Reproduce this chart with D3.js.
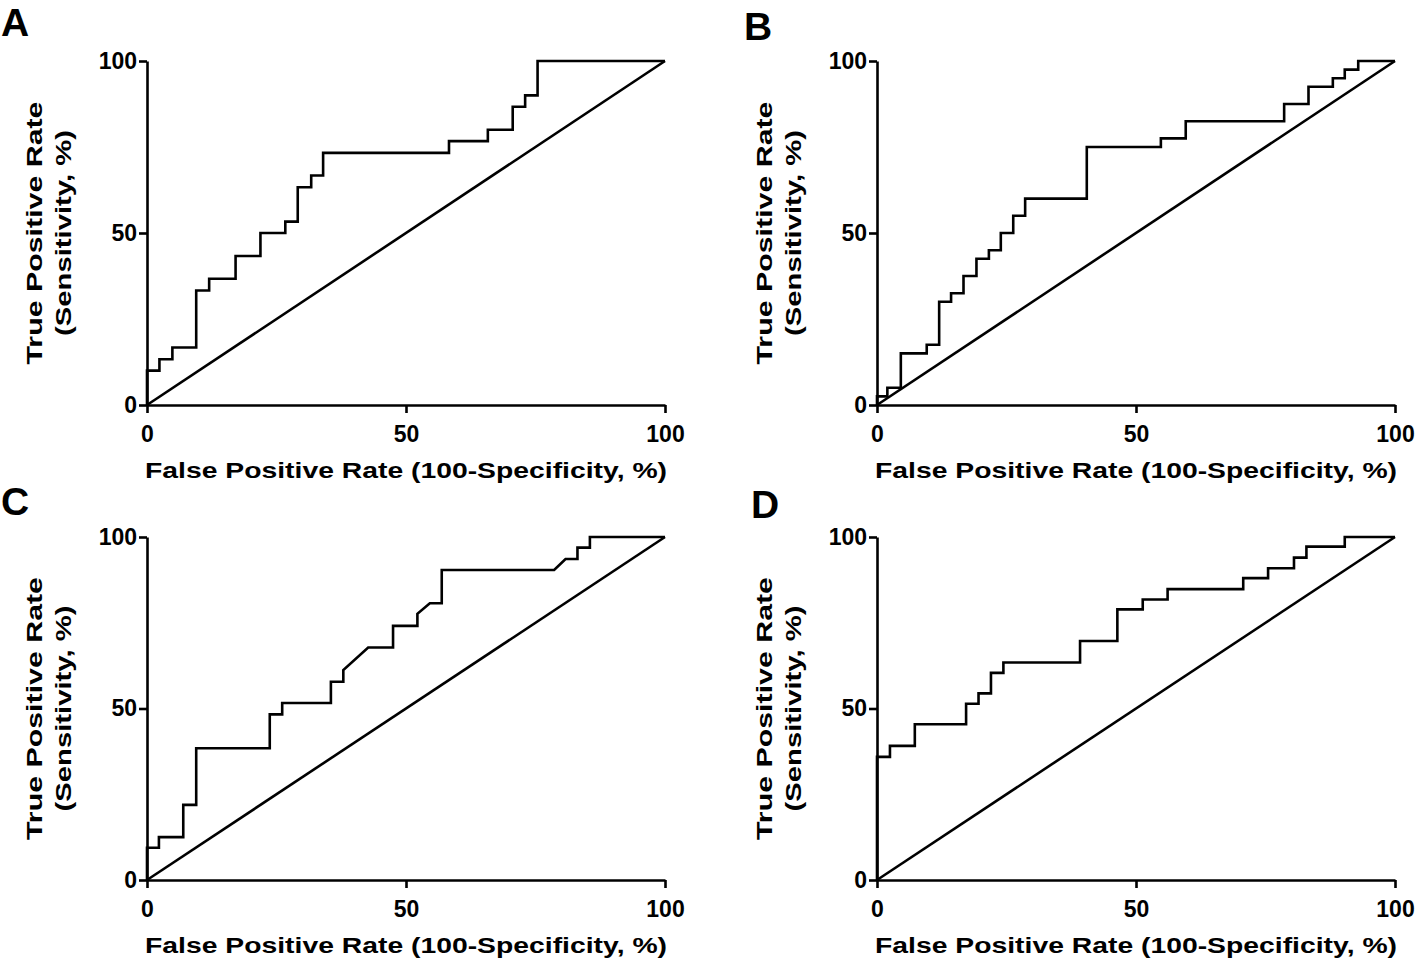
<!DOCTYPE html>
<html>
<head>
<meta charset="utf-8">
<script src="https://cdn.jsdelivr.net/npm/d3@7"></script>
<style>
  html, body { margin: 0; padding: 0; background: #fff; }
  svg { display: block; }
  text { font-family: "Liberation Sans", Arial, sans-serif; font-weight: bold; fill: #000; }
</style>
</head>
<body>
<svg id="chart" width="1416" height="965"></svg>
<script>
// ---- data (ROC vertices: FPR %, TPR %) ----
const panelLabels = ["A", "B", "C", "D"];
const tickValues = [0, 50, 100];
const xTitle = "False Positive Rate (100-Specificity, %)";
const yTitle1 = "True  Positive  Rate";
const yTitle2 = "(Sensitivity, %)";

const fprA = [0,0,2.4,2.4,4.9,4.9,9.5,9.5,12,12,17.1,17.1,21.9,21.9,26.7,26.7,29.1,29.1,31.7,31.7,34,34,58.3,58.3,65.8,65.8,70.6,70.6,73,73,75.4,75.4,100];
const tprA = [0,10,10,13.3,13.3,16.7,16.7,33.3,33.3,36.7,36.7,43.3,43.3,50,50,53.3,53.3,63.3,63.3,66.7,66.7,73.3,73.3,76.7,76.7,80,80,86.7,86.7,90,90,100,100];

const fprB = [0,0,2,2,4.6,4.6,9.6,9.6,12,12,14.3,14.3,16.7,16.7,19.2,19.2,21.6,21.6,23.9,23.9,26.3,26.3,28.6,28.6,40.5,40.5,54.8,54.8,59.6,59.6,78.6,78.6,83.3,83.3,88,88,90.3,90.3,92.9,92.9,100];
const tprB = [0,2.5,2.5,5,5,15,15,17.5,17.5,30,30,32.5,32.5,37.5,37.5,42.5,42.5,45,45,50,50,55,55,60,60,75,75,77.5,77.5,82.5,82.5,87.5,87.5,92.5,92.5,95,95,97.5,97.5,100,100];

const fprC = [0,0,2.3,2.3,7,7,9.5,9.5,23.7,23.7,26.1,26.1,35.5,35.5,37.9,37.9,42.7,47.5,47.5,52.2,52.2,54.6,56.9,56.9,78.6,80.8,83.1,83.1,85.5,85.5,100];
const tprC = [0,9.4,9.4,12.5,12.5,21.9,21.9,38.4,38.4,48.3,48.3,51.6,51.6,57.8,57.8,61.2,67.8,67.8,74.1,74.1,77.6,80.7,80.7,90.4,90.4,93.6,93.6,96.9,96.9,100,100];

const fprD = [0,0,2.5,2.5,7.3,7.3,17.2,17.2,19.6,19.6,22,22,24.4,24.4,39.2,39.2,46.4,46.4,51.3,51.3,56.1,56.1,70.7,70.7,75.5,75.5,80.5,80.5,82.9,82.9,90.3,90.3,100];
const tprD = [0,35.9,35.9,39.1,39.1,45.4,45.4,51.4,51.4,54.4,54.4,60.4,60.4,63.4,63.4,69.7,69.7,78.9,78.9,81.8,81.8,84.8,84.8,88,88,90.9,90.9,94,94,97.2,97.2,100,100];

const referenceLine = [[0, 0], [100, 100]];

// ---- layout ----
const panels = [
  { label: panelLabels[0], fpr: fprA, tpr: tprA, left: 147, right: 665, top: 61, bottom: 405, lx: 1, ly: 36 },
  { label: panelLabels[1], fpr: fprB, tpr: tprB, left: 877, right: 1395, top: 61, bottom: 405, lx: 744, ly: 40 },
  { label: panelLabels[2], fpr: fprC, tpr: tprC, left: 147, right: 665, top: 537, bottom: 880, lx: 1, ly: 515 },
  { label: panelLabels[3], fpr: fprD, tpr: tprD, left: 877, right: 1395, top: 537, bottom: 880, lx: 751, ly: 518 }
];

const svg = d3.select("#chart");
const SW = 2.6;

panels.forEach(p => {
  const x = d3.scaleLinear().domain([0, 100]).range([p.left, p.right]);
  const y = d3.scaleLinear().domain([0, 100]).range([p.bottom, p.top]);
  const g = svg.append("g");

  // panel letter
  g.append("text").attr("x", p.lx).attr("y", p.ly)
    .style("font-family", "'Liberation Sans', Arial, sans-serif")
    .style("font-size", "39px").style("font-weight", "bold")
    .text(p.label);

  // axes
  const xAxis = d3.axisBottom(x).tickValues(tickValues).tickSize(8).tickSizeOuter(0).tickPadding(13);
  const yAxis = d3.axisLeft(y).tickValues(tickValues).tickSize(8).tickSizeOuter(0).tickPadding(2);

  const gx = g.append("g").attr("transform", `translate(0,${p.bottom})`).call(xAxis);
  const gy = g.append("g").attr("transform", `translate(${p.left},0)`).call(yAxis);
  [gx, gy].forEach(a => {
    a.selectAll("path.domain").attr("stroke", "#000").attr("stroke-width", SW);
    a.selectAll(".tick line").attr("stroke", "#000").attr("stroke-width", SW);
    a.selectAll(".tick text").style("font-size", "23px").style("font-family", "'Liberation Sans', Arial, sans-serif").style("font-weight", "bold").attr("fill", "#000");
  });
  gx.selectAll(".tick text").attr("dy", "0.71em");

  // axis titles
  const cx = (p.left + p.right) / 2;
  g.append("text").attr("x", cx).attr("y", p.bottom + 73)
    .attr("text-anchor", "middle").style("font-size", "22px")
    .attr("textLength", 522).attr("lengthAdjust", "spacingAndGlyphs")
    .text(xTitle);

  const cy = (p.top + p.bottom) / 2;
  const xt1 = p.left - 105, xt2 = p.left - 76;
  g.append("text").attr("transform", `translate(${xt1},${cy}) rotate(-90)`)
    .attr("text-anchor", "middle").style("font-size", "22px")
    .attr("textLength", 263).attr("lengthAdjust", "spacingAndGlyphs")
    .text(yTitle1);
  g.append("text").attr("transform", `translate(${xt2},${cy}) rotate(-90)`)
    .attr("text-anchor", "middle").style("font-size", "22px")
    .attr("textLength", 206).attr("lengthAdjust", "spacingAndGlyphs")
    .text(yTitle2);

  // reference diagonal
  const line = d3.line().x(d => x(d[0])).y(d => y(d[1]));
  g.append("path").datum(referenceLine).attr("d", line)
    .attr("fill", "none").attr("stroke", "#000").attr("stroke-width", SW);

  // ROC curve
  const pts = p.fpr.map((v, i) => [v, p.tpr[i]]);
  g.append("path").datum(pts).attr("d", line)
    .attr("fill", "none").attr("stroke", "#000").attr("stroke-width", SW)
    .attr("stroke-linejoin", "miter");
});
</script>
</body>
</html>
